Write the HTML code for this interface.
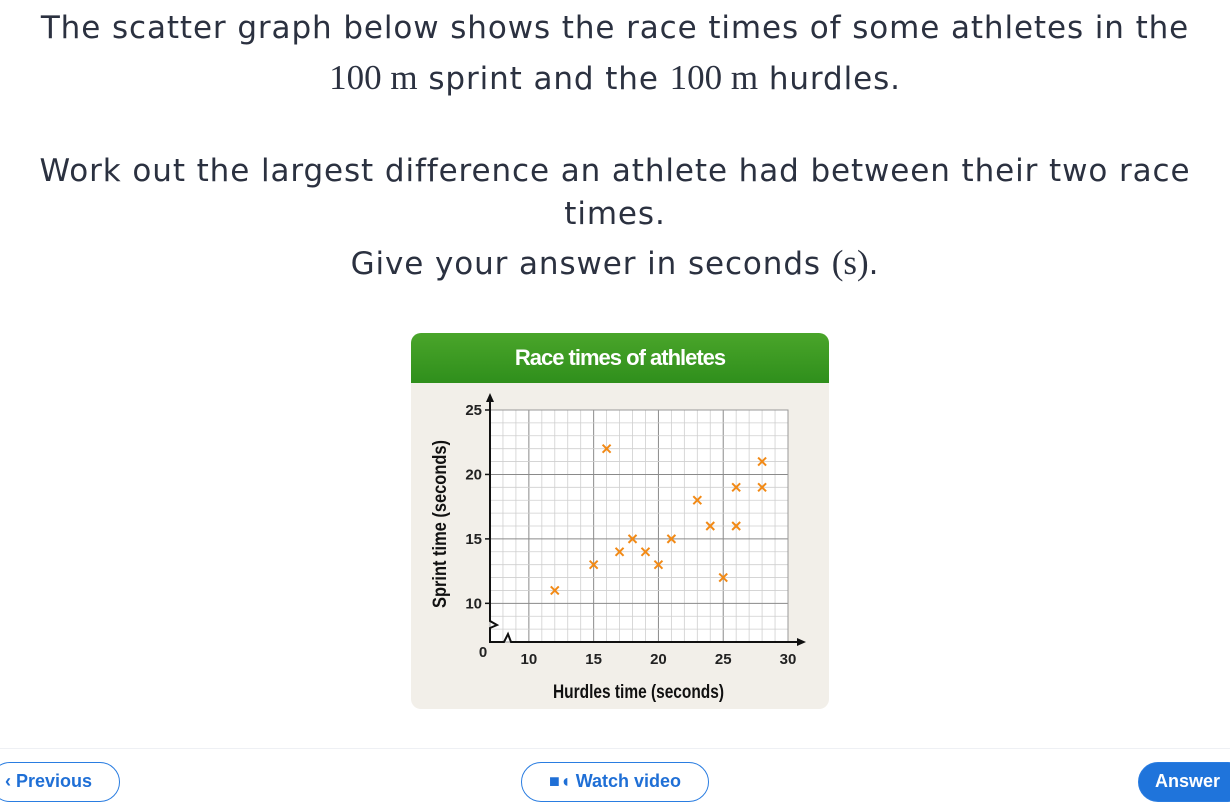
<!DOCTYPE html>
<html><head><meta charset="utf-8"><style>
body{margin:0;width:1230px;height:788px;overflow:hidden;background:#fff;font-family:"DejaVu Sans","Liberation Sans",sans-serif;color:#2b3140;position:relative}
.q{position:absolute;left:0;width:1230px;text-align:center;font-size:31px;line-height:40px;letter-spacing:0.9px;white-space:nowrap}
.m{font-family:"Liberation Serif",serif;font-size:35px;letter-spacing:0}
#card{position:absolute;left:411px;top:333px;width:418px;height:376px;background:#f2efe9;border-radius:10px;overflow:hidden}
#hdr{height:50px;background:linear-gradient(#4aa52a,#2f8f1c);color:#fff;font:bold 22px "Liberation Sans",sans-serif;text-align:center;line-height:50px;letter-spacing:-1px}
.btn{position:absolute;top:762px;height:40px;border:1.5px solid #2a7de1;border-radius:20px;color:#1f6fd6;font-weight:bold;font-size:18px;line-height:36px;box-sizing:border-box;background:#fff;font-family:"Liberation Sans",sans-serif}
</style></head><body>
<div class="q" style="top:8px">The scatter graph below shows the race times of some athletes in the</div>
<div class="q" style="top:58px"><span class="m">100 m</span> sprint and the <span class="m">100 m</span> hurdles.</div>
<div class="q" style="top:151px">Work out the largest difference an athlete had between their two race</div>
<div class="q" style="top:194px">times.</div>
<div class="q" style="top:243px">Give your answer in seconds <span class="m">(s)</span>.</div>
<div id="card"><div id="hdr">Race times of athletes</div></div>
<svg id="chart" width="1230" height="788" style="position:absolute;left:0;top:0" font-family="Liberation Sans, sans-serif"></svg>
<div style="position:absolute;left:0;top:748px;width:1230px;height:1px;background:#eef0f4"></div>
<div class="btn" style="left:-10px;width:130px;padding-left:14px">‹ Previous</div>
<div class="btn" style="left:521px;width:188px;text-align:center">■◖ Watch video</div>
<div class="btn" style="left:1138px;width:110px;background:#1f74db;color:#fff;padding-left:16px">Answer</div>
<script>
const hurdles=[12,15,16,17,18,19,20,21,23,24,25,26,26,28,28];
const sprint=[11,13,22,14,15,14,13,15,18,16,12,16,19,19,21];
const xTicks=[10,15,20,25,30];
const yTicks=[10,15,20,25];
const NS='http://www.w3.org/2000/svg',svg=document.getElementById('chart');
const X0=7,X1=30,Y0=7,Y1=25,PL=490,PR=788,PT=410,PB=642;
const sx=v=>PL+(v-X0)*(PR-PL)/(X1-X0), sy=v=>PB-(v-Y0)*(PB-PT)/(Y1-Y0);
function mk(t,a,p){const e=document.createElementNS(NS,t);for(const k in a)e.setAttribute(k,a[k]);(p||svg).appendChild(e);return e;}
const g=mk('g',{});
mk('rect',{x:PL,y:PT,width:PR-PL,height:PB-PT,fill:'#fff'},g);
for(let v=X0;v<=X1;v++){const maj=v%5==0;mk('line',{x1:sx(v),x2:sx(v),y1:PT,y2:PB,stroke:maj?'#8a8a8a':'#cfcfcf','stroke-width':maj?1:0.8},g);}
for(let v=Y0;v<=Y1;v++){const maj=v%5==0;mk('line',{y1:sy(v),y2:sy(v),x1:PL,x2:PR,stroke:maj?'#8a8a8a':'#cfcfcf','stroke-width':maj?1:0.8},g);}
mk('rect',{x:PL,y:PT,width:PR-PL,height:PB-PT,fill:'none',stroke:'#999'},g);
const ax=mk('path',{d:`M${PL} 398 L${PL} 621 l7 4 l-7 3 L${PL} ${PB} L504 ${PB} l4 -8 l3 8 L800 ${PB}`,fill:'none',stroke:'#111','stroke-width':2});

mk('path',{d:`M${PL} 393 l-4 9 h8z M806 ${PB} l-9 -4 v8z`,fill:'#111'});
xTicks.forEach(v=>{const t=mk('text',{x:sx(v),y:664,'text-anchor':'middle','font-size':15,'font-weight':'bold',fill:'#222'});t.textContent=v;});
yTicks.forEach(v=>{mk('line',{x1:PL-5,x2:PL,y1:sy(v),y2:sy(v),stroke:'#111','stroke-width':1.5});const t=mk('text',{x:PL-8,y:sy(v)+5,'text-anchor':'end','font-size':15,'font-weight':'bold',fill:'#222'});t.textContent=v;});
const z=mk('text',{x:483,y:657,'text-anchor':'middle','font-size':15,'font-weight':'bold',fill:'#222'});z.textContent='0';
const xt=mk('text',{x:553,y:698,'font-size':19,'font-weight':'bold',fill:'#111',textLength:171,lengthAdjust:'spacingAndGlyphs'});xt.textContent='Hurdles time (seconds)';

const yt=mk('text',{x:-84,y:0,'font-size':19,'font-weight':'bold',fill:'#111',textLength:168,lengthAdjust:'spacingAndGlyphs',transform:'translate(446 524) rotate(-90)'});yt.textContent='Sprint time (seconds)';

hurdles.forEach((h,i)=>{const x=sx(h),y=sy(sprint[i]);const p=mk('path',{d:`M${x-4} ${y-4}L${x+4} ${y+4}M${x+4} ${y-4}L${x-4} ${y+4}`,stroke:'#f28a16','stroke-width':2});
});
</script>
</body></html>
